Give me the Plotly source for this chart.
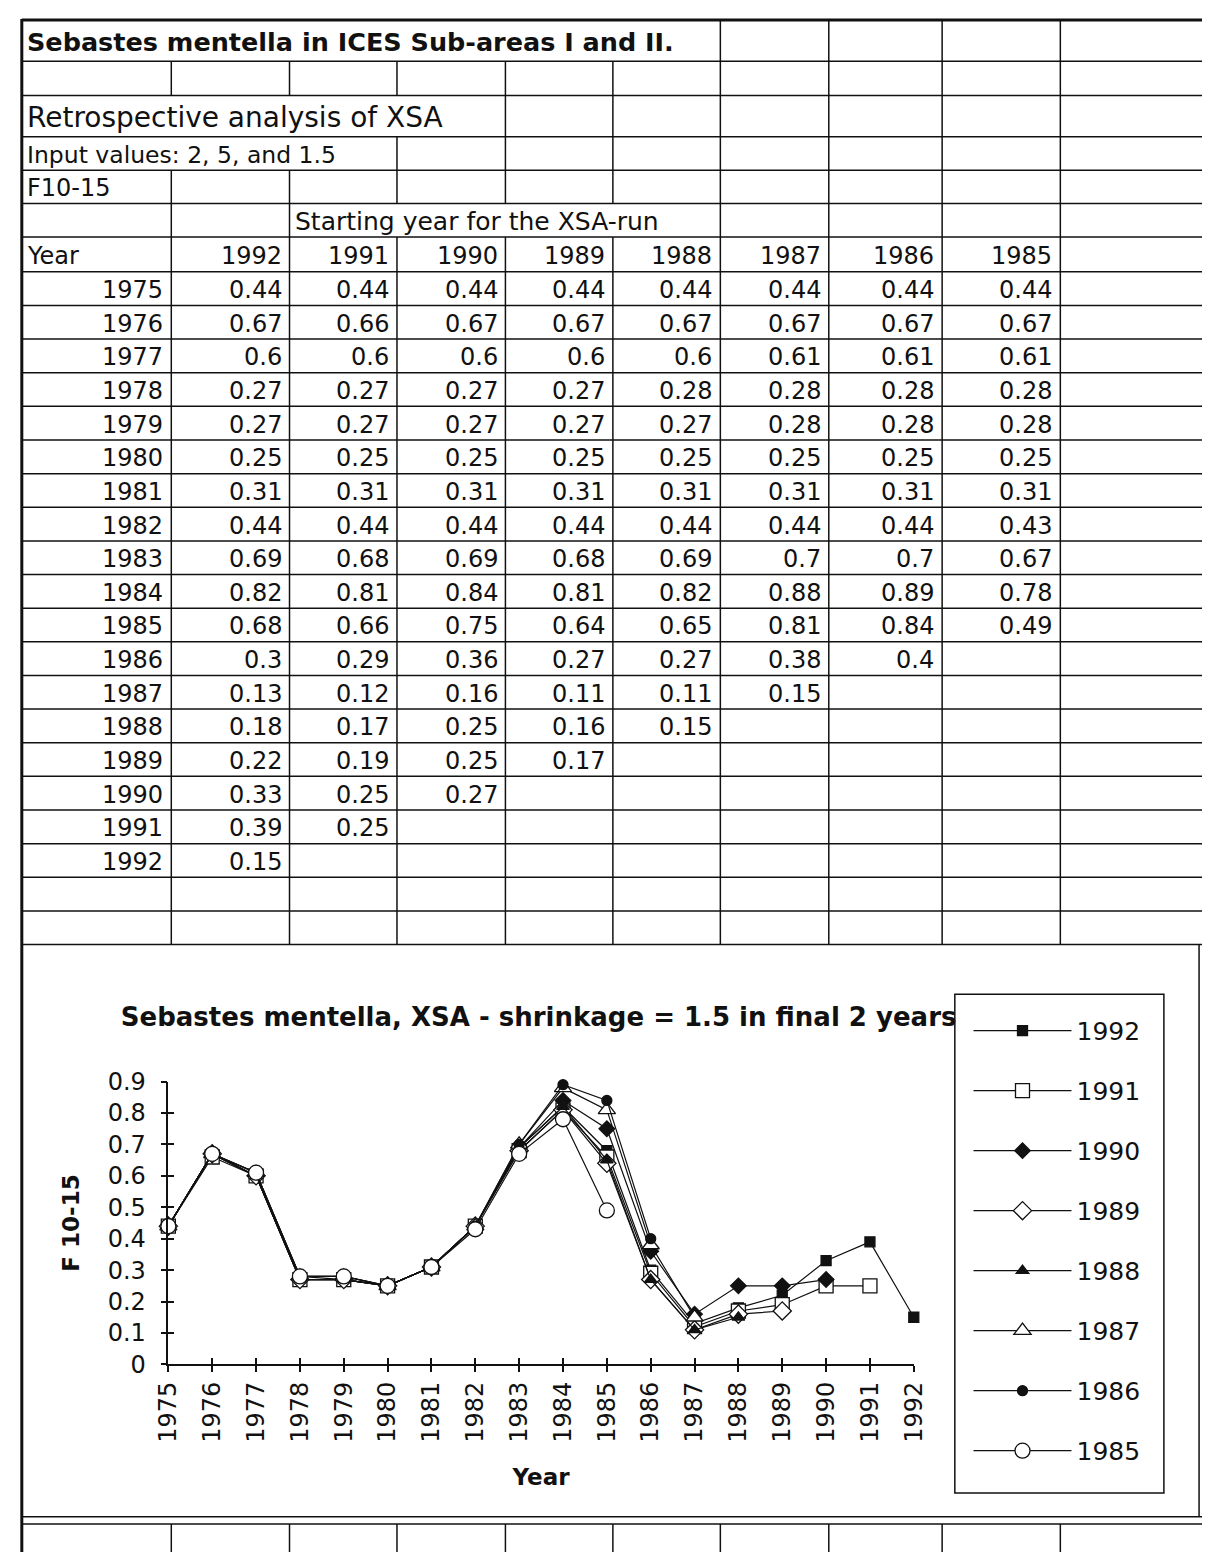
import plotly.graph_objects as go

# ---------------------------------------------------------------------------
# F10-15 by year, one column per starting year of the XSA run
# ---------------------------------------------------------------------------
years = [1975, 1976, 1977, 1978, 1979, 1980, 1981, 1982, 1983,
         1984, 1985, 1986, 1987, 1988, 1989, 1990, 1991, 1992]
run_years = [1992, 1991, 1990, 1989, 1988, 1987, 1986, 1985]

f_1992 = [0.44, 0.67, 0.6, 0.27, 0.27, 0.25, 0.31, 0.44, 0.69, 0.82, 0.68, 0.3, 0.13, 0.18, 0.22, 0.33, 0.39, 0.15]
f_1991 = [0.44, 0.66, 0.6, 0.27, 0.27, 0.25, 0.31, 0.44, 0.68, 0.81, 0.66, 0.29, 0.12, 0.17, 0.19, 0.25, 0.25]
f_1990 = [0.44, 0.67, 0.6, 0.27, 0.27, 0.25, 0.31, 0.44, 0.69, 0.84, 0.75, 0.36, 0.16, 0.25, 0.25, 0.27]
f_1989 = [0.44, 0.67, 0.6, 0.27, 0.27, 0.25, 0.31, 0.44, 0.68, 0.81, 0.64, 0.27, 0.11, 0.16, 0.17]
f_1988 = [0.44, 0.67, 0.6, 0.28, 0.27, 0.25, 0.31, 0.44, 0.69, 0.82, 0.65, 0.27, 0.11, 0.15]
f_1987 = [0.44, 0.67, 0.61, 0.28, 0.28, 0.25, 0.31, 0.44, 0.7, 0.88, 0.81, 0.38, 0.15]
f_1986 = [0.44, 0.67, 0.61, 0.28, 0.28, 0.25, 0.31, 0.44, 0.7, 0.89, 0.84, 0.4]
f_1985 = [0.44, 0.67, 0.61, 0.28, 0.28, 0.25, 0.31, 0.43, 0.67, 0.78, 0.49]

runs = [f_1992, f_1991, f_1990, f_1989, f_1988, f_1987, f_1986, f_1985]

y_ticks = [0, 0.1, 0.2, 0.3, 0.4, 0.5, 0.6, 0.7, 0.8, 0.9]

sheet_title = "Sebastes mentella in ICES Sub-areas I and II."
sheet_subtitle = "Retrospective analysis of XSA"
sheet_inputs = "Input values: 2, 5, and 1.5"
sheet_quantity = "F10-15"
sheet_runs_header = "Starting year for the XSA-run"
chart_title = "Sebastes mentella, XSA - shrinkage = 1.5 in final 2 years"

# ---------------------------------------------------------------------------
# Page geometry (pixels) and styles
# ---------------------------------------------------------------------------
W, H = 1216, 1566
FONT = "DejaVu Sans"
INK = "#111111"


def fx(px):
    return px / W


def fy(py):
    return 1 - py / H


col_edges = [8, 161, 282, 392, 503, 613, 723, 834, 950, 1071, 1216]
head_edges = [6, 48, 83, 125, 159, 193, 227, 262.5]
row_h = 34.25
n_body = len(years) + 2
row_edges = head_edges + [262.5 + i * row_h for i in range(1, n_body + 1)]
table_bottom = row_edges[-1]
chart_bottom = 1530
all_cols = list(range(1, 10))
# which interior column rules appear in each heading row
head_vrules = {
    0: [6, 7, 8, 9],
    1: all_cols,
    2: [4, 5, 6, 7, 8, 9],
    3: [3, 4, 5, 6, 7, 8, 9],
    4: all_cols,
    5: [1, 2, 6, 7, 8, 9],
    6: all_cols,
}

styles = {
    1992: dict(symbol="square", size=10, color=INK),
    1991: dict(symbol="square", size=14, color="white"),
    1990: dict(symbol="diamond", size=12, color=INK),
    1989: dict(symbol="diamond", size=14, color="white"),
    1988: dict(symbol="triangle-up", size=11, color=INK),
    1987: dict(symbol="triangle-up", size=15, color="white"),
    1986: dict(symbol="circle", size=10, color=INK),
    1985: dict(symbol="circle", size=15, color="white"),
}

shapes = []


def rule(x0, y0, x1, y1, w=1.5):
    shapes.append(dict(type="line", xref="paper", yref="paper",
                       x0=fx(x0), y0=fy(y0), x1=fx(x1), y1=fy(y1),
                       line=dict(color=INK, width=w), layer="above"))


# horizontal rules of the sheet
for i, e in enumerate(row_edges):
    rule(col_edges[0], e, W, e, 3 if i == 0 else 1.5)
# vertical rules
for r in range(len(row_edges) - 1):
    cols = head_vrules.get(r, all_cols)
    for c in cols:
        rule(col_edges[c], row_edges[r], col_edges[c], row_edges[r + 1])
# left sheet border
rule(col_edges[0], 5, col_edges[0], H, 3)
# chart object frame and the cells below it
rule(1213, table_bottom, 1213, chart_bottom)
rule(col_edges[0], chart_bottom, W, chart_bottom)
rule(col_edges[0], chart_bottom + 7.5, W, chart_bottom + 7.5)
for c in all_cols:
    rule(col_edges[c], chart_bottom + 7.5, col_edges[c], H)
# frame around the legend
shapes.append(dict(type="rect", xref="paper", yref="paper",
                   x0=fx(963), x1=fx(1177), y0=fy(1506), y1=fy(998),
                   line=dict(color=INK, width=1.5), layer="above"))

annotations = []


def cell_text(text, row_top, row_bot, x, anchor="right", size=24, bold=False):
    annotations.append(dict(
        text=text, xref="paper", yref="paper",
        x=fx(x), y=fy((row_top + row_bot) / 2 + 1.5),
        xanchor=anchor, yanchor="middle", showarrow=False,
        font=dict(family=FONT, size=size, color=INK,
                  weight="bold" if bold else "normal")))


cell_text(sheet_title, row_edges[0], row_edges[1], 11, "left", 25.5, True)
cell_text(sheet_subtitle, row_edges[2], row_edges[3], 11, "left", 28)
cell_text(sheet_inputs, row_edges[3], row_edges[4], 11, "left", 23.5)
cell_text(sheet_quantity, row_edges[4], row_edges[5], 11, "left", 24)
cell_text(sheet_runs_header, row_edges[5], row_edges[6], 286, "left", 25)
cell_text("Year", row_edges[6], row_edges[7], 11, "left", 24)
for j, ry in enumerate(run_years):
    cell_text(str(ry), row_edges[6], row_edges[7], col_edges[j + 2] - 6)

for i, yr in enumerate(years):
    top, bot = row_edges[7 + i], row_edges[8 + i]
    cell_text(str(yr), top, bot, col_edges[1] - 6)
    for j, series in enumerate(runs):
        if i < len(series):
            cell_text(str(series[i]), top, bot, col_edges[j + 2] - 6)

# ---------------------------------------------------------------------------
# Line chart
# ---------------------------------------------------------------------------
fig = go.Figure()
for ry, series in zip(run_years, runs):
    st = styles[ry]
    fig.add_trace(go.Scatter(
        x=years[:len(series)], y=series, name=str(ry),
        legendgroup=str(ry),
        mode="lines+markers", cliponaxis=False,
        line=dict(color=INK, width=1.2),
        marker=dict(symbol=st["symbol"], size=st["size"], color=st["color"],
                    line=dict(color=INK, width=1.3)),
    ))

# companion axes carrying the inner half of the crossing tick marks
fig.add_trace(go.Scatter(x=[], y=[], xaxis="x2", yaxis="y2",
                         showlegend=False, hoverinfo="skip"))

x_dom = [fx(158), fx(921)]
y_dom = [fy(1375), fy(1087)]
tick_font = dict(family=FONT, size=24, color=INK)

fig.update_layout(
    width=W, height=H,
    margin=dict(l=0, r=0, t=0, b=0),
    paper_bgcolor="white", plot_bgcolor="white",
    showlegend=True,
    title=dict(text=chart_title, x=fx(537), y=fy(1017), xanchor="center",
               yanchor="middle", xref="paper", yref="container",
               font=dict(family=FONT, size=26, color=INK, weight="bold")),
    xaxis=dict(domain=x_dom, range=[years[0], years[-1]], anchor="y",
               tickmode="array", tickvals=years, ticktext=[str(v) for v in years],
               tickangle=-90, tickfont=tick_font,
               showline=True, linecolor=INK, linewidth=1.5,
               ticks="outside", ticklen=6, tickwidth=1.5, tickcolor=INK,
               showgrid=False, zeroline=False,
               title=dict(text="Year", standoff=27,
                          font=dict(family=FONT, size=23, color=INK, weight="bold"))),
    yaxis=dict(domain=y_dom, range=[y_ticks[0], y_ticks[-1]], anchor="x",
               tickmode="array", tickvals=y_ticks, ticktext=[f"{v:g}" for v in y_ticks],
               tickfont=tick_font,
               showline=True, linecolor=INK, linewidth=1.5,
               ticks="outside", ticklen=6, tickwidth=1.5, tickcolor=INK,
               ticklabelstandoff=10,
               showgrid=False, zeroline=False,
               title=dict(text="F 10-15", standoff=22,
                          font=dict(family=FONT, size=23, color=INK, weight="bold"))),
    xaxis2=dict(overlaying="x", anchor="y2", range=[years[0], years[-1]],
                tickmode="array", tickvals=years, showticklabels=False,
                ticks="inside", ticklen=6, tickwidth=1.5, tickcolor=INK,
                showline=False, showgrid=False, zeroline=False),
    yaxis2=dict(overlaying="y", anchor="x2", range=[y_ticks[0], y_ticks[-1]],
                tickmode="array", tickvals=y_ticks, showticklabels=False,
                ticks="inside", ticklen=6, tickwidth=1.5, tickcolor=INK,
                showline=False, showgrid=False, zeroline=False),
    legend=dict(x=fx(977), y=fy(1012), xanchor="left", yanchor="top",
                borderwidth=0, bgcolor="rgba(0,0,0,0)",
                font=dict(family=FONT, size=25, color=INK),
                traceorder="grouped", tracegroupgap=24.5, itemwidth=98,
                itemclick=False, itemdoubleclick=False),
    shapes=shapes,
    annotations=annotations,
)

# the page body gets no default margin so the figure sits at the window origin
fig.write_html("out.html", post_script="document.body.style.margin='0';")
